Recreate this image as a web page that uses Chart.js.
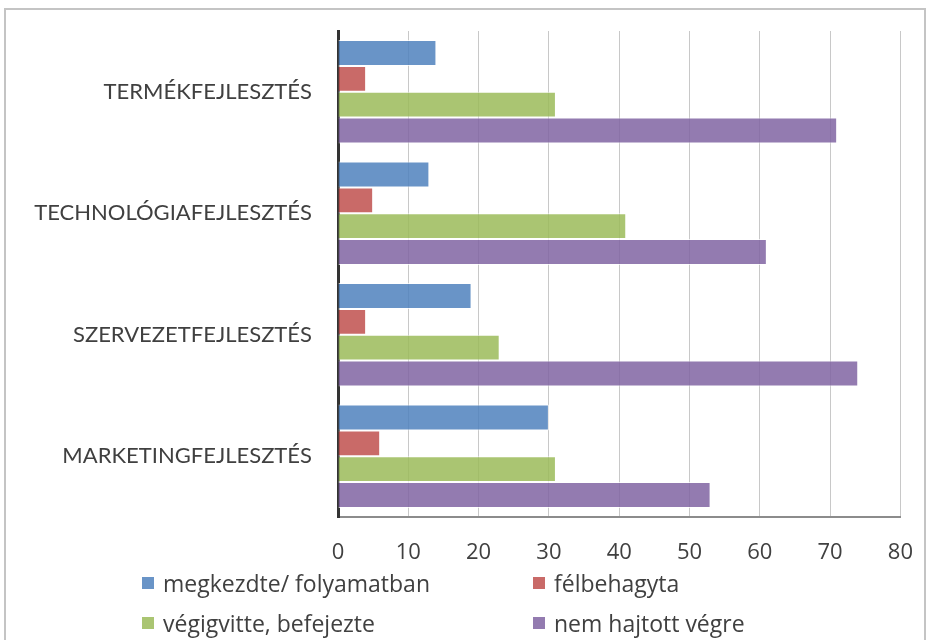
<!DOCTYPE html>
<html>
<head>
<meta charset="utf-8">
<script src="https://cdn.jsdelivr.net/npm/chart.js@4"></script>
<style>
    body { margin: 0; background: #fff; }
    #wrap { position: relative; width: 929px; height: 640px; overflow: hidden; }
    #frame { position: absolute; left: 4px; top: 8px; width: 918px; height: 700px; border: 2px solid #c4c4c4; }
    canvas { position: absolute; left: 0; top: 0; }
    .leg { position: absolute; font-family: "Open Sans", sans-serif; font-size: 23px; line-height: 26px; color: #404040; white-space: nowrap; }
    .leg span { position: absolute; left: 0; top: 7px; width: 12px; height: 12px; }
</style>
</head>
<body>
<div id="wrap">
    <div id="frame"></div>
    <canvas id="chart" width="936" height="640"></canvas>
    <div id="legend"></div>
</div>
<script>
// Adatok
const categories = ['TERMÉKFEJLESZTÉS', 'TECHNOLÓGIAFEJLESZTÉS', 'SZERVEZETFEJLESZTÉS', 'MARKETINGFEJLESZTÉS'];
const seriesNames = ['megkezdte/ folyamatban', 'félbehagyta', 'végigvitte, befejezte', 'nem hajtott végre'];
const megkezdte = [14, 13, 19, 30];
const felbehagyta = [4, 5, 4, 6];
const vegigvitte = [31, 41, 23, 31];
const nemHajtott = [71, 61, 74, 53];
const xTicks = [0, 10, 20, 30, 40, 50, 60, 70, 80];

const colors = ['rgba(79,129,189,0.85)', 'rgba(192,80,77,0.85)', 'rgba(155,187,89,0.85)', 'rgba(128,100,162,0.85)'];
const values = [megkezdte, felbehagyta, vegigvitte, nemHajtott];

const ctx = document.getElementById('chart').getContext('2d');
const chart = new Chart(ctx, {
    type: 'bar',
    data: {
        labels: categories,
        datasets: values.map((v, i) => ({
            label: seriesNames[i],
            data: v,
            backgroundColor: colors[i],
            borderColor: 'rgba(255,255,255,0.7)',
            borderWidth: 1,
            categoryPercentage: 0.85,
            barPercentage: 1
        }))
    },
    options: {
        indexAxis: 'y',
        responsive: false,
        animation: false,
        layout: { padding: { top: 31, right: 0, left: 0, bottom: 0 } },
        plugins: { legend: { display: false }, tooltip: { enabled: false } },
        scales: {
            x: {
                min: 0,
                max: 80,
                afterBuildTicks: (scale) => { scale.ticks = xTicks.map(v => ({ value: v })); },
                afterFit: (scale) => { scale.height = 123; },
                grid: { color: '#c8c8c8', lineWidth: 1, drawTicks: false },
                border: { color: '#8c8c8c', width: 2 },
                ticks: { padding: 23, color: '#404040', font: { family: 'Open Sans', size: 22 } }
            },
            y: {
                afterFit: (scale) => {
                    scale.width = 338;
                    scale.paddingTop = 0;
                    scale.paddingBottom = 0;
                },
                grid: { display: false, drawTicks: false },
                border: { color: '#333333', width: 3 },
                ticks: { padding: 26, color: '#404040', font: { family: 'Lato', size: 22 } }
            }
        }
    }
});

// Jelmagyarázat két oszlopban
const legendPos = [[142, 570], [533, 570], [142, 610], [533, 610]];
const legendDiv = document.getElementById('legend');
seriesNames.forEach((name, i) => {
    const d = document.createElement('div');
    d.className = 'leg';
    d.style.left = legendPos[i][0] + 'px';
    d.style.top = legendPos[i][1] + 'px';
    d.style.paddingLeft = '21px';
    d.innerHTML = '<span style="background:' + colors[i] + '"></span>' + name;
    legendDiv.appendChild(d);
});
</script>
</body>
</html>
